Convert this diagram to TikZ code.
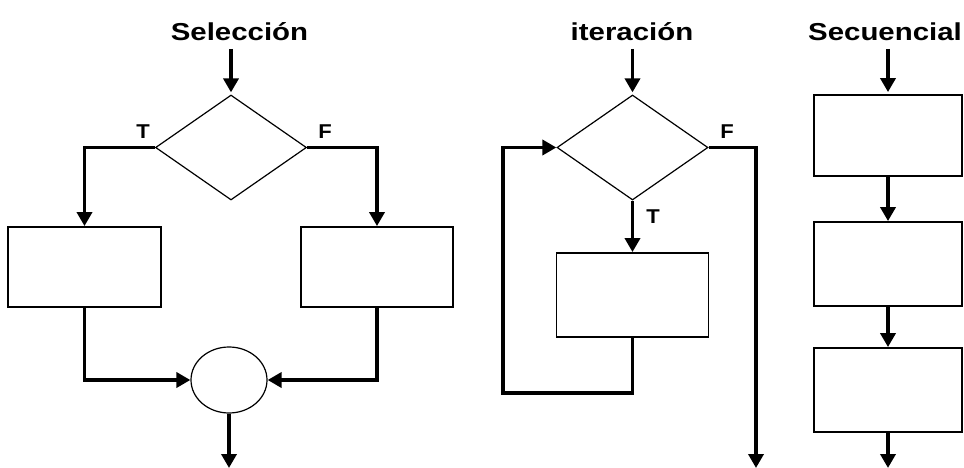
\documentclass[tikz,border=0pt]{standalone}
\usepackage{fontspec}
\usetikzlibrary{shapes.geometric,arrows.meta}
\newfontfamily\titlefont{Liberation Sans}[FakeStretch=1.2]
\newfontfamily\labfont{Liberation Sans}[FakeStretch=1.1]
\tikzset{
  x=1pt, y=-1pt,
  title/.style={font=\titlefont\bfseries\fontsize{24.5}{28}\selectfont, anchor=base, inner sep=0},
  tf/.style={font=\labfont\bfseries\fontsize{20}{22}\selectfont, anchor=base, inner sep=0},
  boxnode/.style={draw, line width=1.8pt, inner sep=0, minimum width=#1},
  boxnode/.default=152pt,
  dia/.style={draw, diamond, line width=1.2pt, inner sep=0, minimum width=151pt, minimum height=105pt},
  circ/.style={draw, ellipse, line width=1.2pt, inner sep=0, minimum width=76pt, minimum height=66pt},
  conn/.style={line width=3.8pt, -{Triangle[width=15pt,length=14pt]}},
  plain/.style={line width=3.8pt}
}
\begin{document}
\begin{tikzpicture}
\useasboundingbox (0,0) rectangle (964,468);

% ---- Seleccion ----
\node[title] (t1) at (239.5,41) {Selección};
\coordinate (s1in) at (231,49);
\node[dia] (d1) at (231,147.5) {};
\node[boxnode=153pt, minimum height=80pt] (L1) at (84.5,267) {};
\node[boxnode=152pt, minimum height=80pt] (R1) at (377,267) {};
\node[circ] (e1) at (229,380) {};
\coordinate (e1out) at (229,468);
\node[tf] (T1) at (143,139) {T};
\node[tf] (F1) at (325,139) {F};
\draw[conn, shorten >=2pt] (s1in) -- (d1.north);
\draw[conn] (d1.west) -| (L1.north);
\draw[conn] (d1.east) -| (R1.north);
\draw[conn] (L1.south) |- (e1.west);
\draw[conn] (R1.south) |- (e1.east);
\draw[conn] (e1.south) -- (e1out);

% ---- iteracion ----
\node[title] (t2) at (632,41) {iteración};
\coordinate (s2in) at (632.5,49);
\node[dia] (d2) at (632.5,147.5) {};
\node[boxnode=152pt, minimum height=84pt] (B2) at (632.5,295) {};
\coordinate (lp) at (503,393);
\coordinate (f2out) at (756,468);
\node[tf] (F2) at (727,139) {F};
\node[tf] (T2) at (653,223) {T};
\draw[conn, shorten >=2pt] (s2in) -- (d2.north);
\draw[conn] (d2.south) -- (B2.north);
\draw[conn] (B2.south) |- (lp) |- (d2.west);
\draw[conn] (d2.east) -| (f2out);

% ---- Secuencial ----
\node[title] (t3) at (885,41) {Secuencial};
\coordinate (s3in) at (888,49);
\node[boxnode=148pt, minimum height=81pt] (S1) at (888,135.5) {};
\node[boxnode=148pt, minimum height=84pt] (S2) at (888,264) {};
\node[boxnode=148pt, minimum height=84pt] (S3) at (888,390) {};
\coordinate (s3out) at (888,468);
\draw[conn, shorten >=2pt] (s3in) -- (S1.north);
\draw[conn] (S1.south) -- (S2.north);
\draw[conn] (S2.south) -- (S3.north);
\draw[conn] (S3.south) -- (s3out);
\end{tikzpicture}
\end{document}
